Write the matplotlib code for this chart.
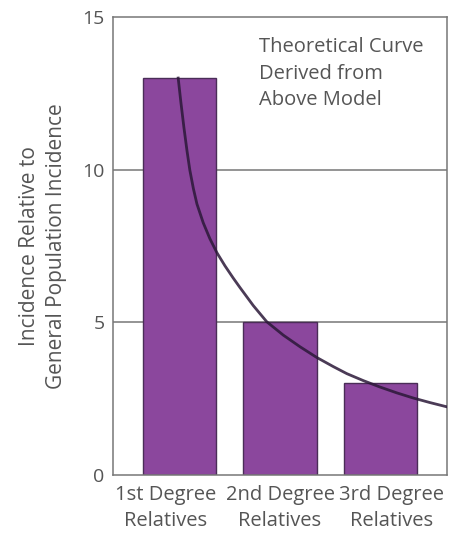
import numpy as np
import matplotlib
matplotlib.use("Agg")
from matplotlib import pyplot as plt
from matplotlib.transforms import ScaledTranslation

# bar data
categories = ["1st Degree\nRelatives", "2nd Degree\nRelatives", "3rd Degree\nRelatives"]
incidence = [13, 5, 3]

# theoretical curve
curve_x = [-0.012, 0.015, 0.045, 0.075, 0.104, 0.139, 0.174, 0.237, 0.303, 0.373, 0.453,
           0.535, 0.602, 0.734, 0.868, 1.033, 1.199, 1.365, 1.530, 1.664, 1.829, 1.995,
           2.161, 2.326, 2.493, 2.662]
curve_y = [13.0, 12.2, 11.38, 10.63, 9.98, 9.38, 8.88, 8.26, 7.74, 7.28, 6.85,
           6.45, 6.14, 5.55, 5.02, 4.58, 4.2, 3.85, 3.55, 3.32, 3.09, 2.88,
           2.69, 2.52, 2.37, 2.23]

yticks = [0, 5, 10, 15]

plt.rcParams['font.family'] = ['Open Sans', 'DejaVu Sans']
text_color = "#555555"

fig = plt.figure(figsize=(4.5, 5.36), dpi=100)
ax = fig.add_axes([113/450, 1-475/536, (447-113)/450, (475-17)/536])

for y in [5, 10]:
    ax.axhline(y, color="#777777", lw=1.1, zorder=0)

ax.bar(range(len(incidence)), incidence, width=0.73, color="#8B479D",
       edgecolor="#4a2d57", lw=1.0, zorder=2)
ax.plot(curve_x, curve_y, color="#2b1838", lw=2.0, zorder=3, alpha=0.85,
        solid_joinstyle="round")

ax.set_xlim(-0.66, 2.66)
ax.set_ylim(0, 15)
ax.set_yticks(yticks)
ax.set_xticks(range(len(categories)))
ax.set_xticklabels(categories, fontsize=14.5, color=text_color, linespacing=1.45)
ax.tick_params(axis="y", length=0, pad=6, labelsize=14, labelcolor=text_color)
ax.tick_params(axis="x", length=0, pad=7)
# labels in the original are spread a bit wider than the bars
for lab, dx in zip(ax.get_xticklabels(), [-14, 0, 11]):
    lab.set_transform(lab.get_transform() + ScaledTranslation(dx/100, 0, fig.dpi_scale_trans))
for s in ax.spines.values():
    s.set_color("#777777")
    s.set_linewidth(1.1)

ax.set_ylabel("Incidence Relative to\nGeneral Population Incidence", fontsize=15,
              color=text_color, labelpad=11, linespacing=1.35)

ax.text(0.79, 14.35, "Theoretical Curve\nDerived from\nAbove Model", fontsize=14.5,
        color=text_color, va="top", ha="left", linespacing=1.45)

fig.savefig("out.png", dpi=100)
